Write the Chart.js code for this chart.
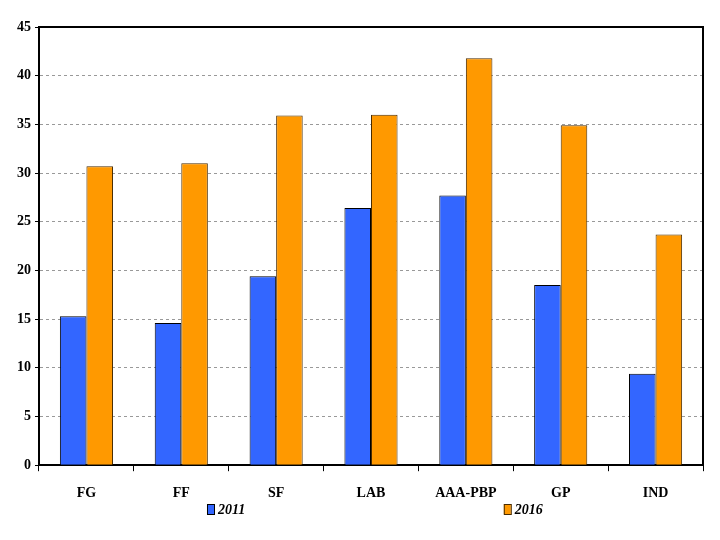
<!DOCTYPE html>
<html>
  <head>
    <title>2011 vs 2016</title>
    <script src="https://cdn.jsdelivr.net/npm/chart.js@4/dist/chart.umd.min.js"></script>
    <style>
      body { margin: 0; background: #fff; }
      #container { width: 720px; height: 540px; }
    </style>
  </head>
  <body>
    <div id="container">
      <canvas id="canvas" width="720" height="540"></canvas>
    </div>
    <script>
      var labels = ['FG', 'FF', 'SF', 'LAB', 'AAA-PBP', 'GP', 'IND'];
      var values2011 = [15.3, 14.6, 19.4, 26.4, 27.7, 18.5, 9.4];
      var values2016 = [30.7, 31.0, 35.9, 36.0, 41.8, 34.9, 23.7];
      var seriesNames = ['2011', '2016'];

      var serif = "'Liberation Serif', 'DejaVu Serif', serif";

      // box round the plot area, and the legend spread under it
      var frame = {
        id: 'frame',
        afterDraw: function (chart) {
          var ctx = chart.ctx;
          var a = chart.chartArea;
          ctx.save();
          ctx.strokeStyle = '#000';
          ctx.lineWidth = 2;
          ctx.beginPath();
          ctx.moveTo(a.left, a.bottom);
          ctx.lineTo(a.left, a.top);
          ctx.lineTo(a.right, a.top);
          ctx.lineTo(a.right, a.bottom);
          ctx.stroke();

          var y = 509;
          var xs = [a.left + 0.253 * (a.right - a.left), a.left + 0.700 * (a.right - a.left)];
          ctx.font = 'italic bold 14px ' + serif;
          ctx.textBaseline = 'middle';
          chart.data.datasets.forEach(function (ds, i) {
            ctx.fillStyle = ds.backgroundColor;
            ctx.fillRect(xs[i], y - 5, 7, 10);
            ctx.strokeStyle = ds.borderColor;
            ctx.lineWidth = 1;
            ctx.strokeRect(xs[i] + 0.5, y - 4.5, 7, 10);
            ctx.fillStyle = '#000';
            ctx.fillText(ds.label, xs[i] + 11, y + 1);
          });
          ctx.restore();
        }
      };

      window.onload = function () {
        var ctx = document.getElementById('canvas').getContext('2d');
        window.myBar = new Chart(ctx, {
          type: 'bar',
          data: {
            labels: labels,
            datasets: [
              {
                label: seriesNames[0],
                data: values2011,
                backgroundColor: '#3366FF',
                borderColor: '#000000',
                borderWidth: 1,
                categoryPercentage: 0.56,
                barPercentage: 1.0,
              },
              {
                label: seriesNames[1],
                data: values2016,
                backgroundColor: '#FF9900',
                borderColor: '#4A2C00',
                borderWidth: 1,
                categoryPercentage: 0.56,
                barPercentage: 1.0,
              },
            ],
          },
          options: {
            responsive: false,
            animation: false,
            layout: { padding: { top: 27, right: 17, bottom: 24, left: 13 } },
            plugins: {
              legend: { display: false },
              tooltip: { enabled: false },
            },
            scales: {
              x: {
                grid: {
                  offset: true,
                  drawOnChartArea: false,
                  color: '#000',
                  tickLength: 6,
                },
                border: { color: '#000', width: 2 },
                ticks: {
                  color: '#000',
                  padding: 14,
                  font: { family: serif, weight: 'bold', size: 14 },
                },
              },
              y: {
                min: 0,
                max: 45,
                ticks: {
                  stepSize: 5,
                  color: '#000',
                  padding: 4,
                  font: { family: serif, weight: 'bold', size: 14 },
                },
                grid: {
                  color: function (c) {
                    return c.tick && (c.tick.value === 0 || c.tick.value === 45) ? 'rgba(0,0,0,0)' : '#999999';
                  },
                  tickColor: '#000',
                  tickLength: 4,
                  tickBorderDash: [],
                },
                border: { color: '#000', width: 2, dash: [3, 3] },
              },
            },
          },
          plugins: [frame],
        });
      };
    </script>
  </body>
</html>
